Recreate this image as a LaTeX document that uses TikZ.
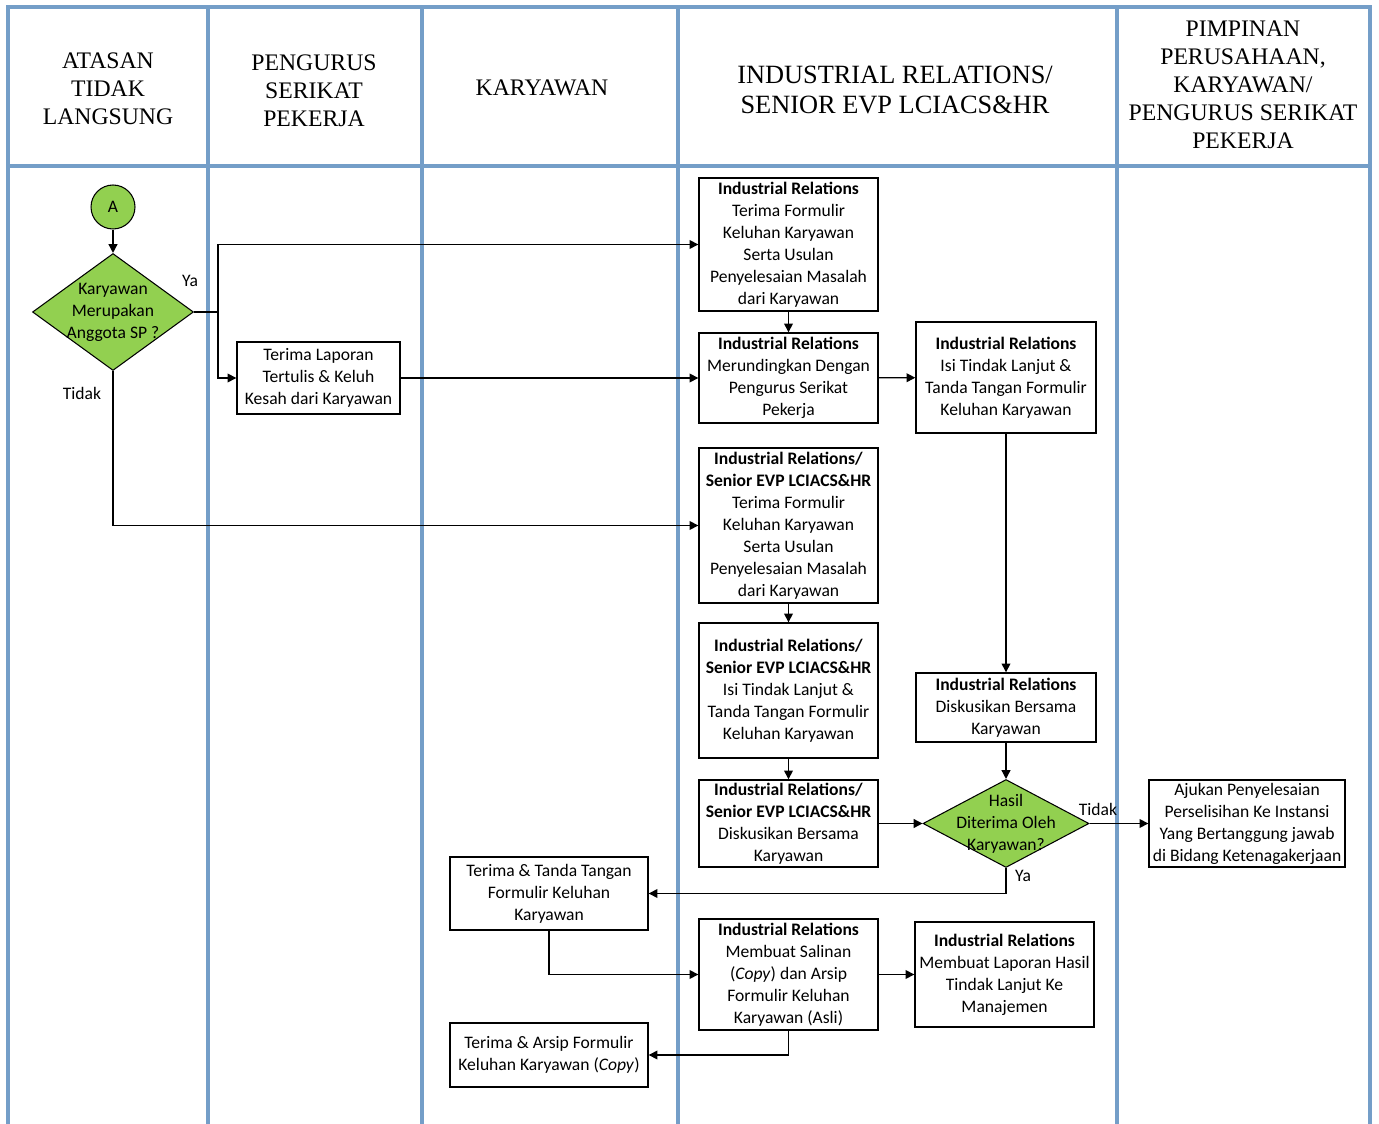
\documentclass[tikz,border=0pt]{standalone}
\usepackage{fontspec}
\setmainfont{Carlito}
\newfontfamily\headfont{Liberation Serif}
\usetikzlibrary{shapes.geometric,arrows.meta}
\definecolor{laneblue}{RGB}{116,158,200}
\definecolor{decgreen}{RGB}{146,208,80}

\begin{document}
\begin{tikzpicture}[x=0.02cm, y=-0.02cm,
    lane/.style={draw=laneblue, line width=2.8pt, line cap=rect},
    head/.style={font=\headfont\fontsize{13.5}{16}\selectfont, align=center},
    box/.style={draw, line width=0.8pt, fill=white, align=center, inner sep=1pt,
        font=\fontsize{10}{12.5}\selectfont},
    decision/.style={diamond, draw, line width=0.6pt, fill=decgreen, inner sep=0pt},
    txt/.style={font=\fontsize{10}{12.5}\selectfont},
    flow/.style={line width=0.8pt, -{Triangle[length=5pt,width=5pt]}},
    link/.style={line width=0.8pt}]

    % Fix the page to the size of the reference
    \useasboundingbox (0,0) rectangle (1379,1124);

    % Swimlane frame
    \foreach \x in {8,208,422,678,1117,1370}
        \draw[lane] (\x,7) -- (\x,1124);
    \draw[lane] (8,7) -- (1370,7);
    \draw[lane] (8,166) -- (1370,166);

    % Lane titles
    \node[head] (h1) at (108,89) {ATASAN\\TIDAK\\LANGSUNG};
    \node[head] (h2) at (314,91) {PENGURUS\\SERIKAT\\PEKERJA};
    \node[head] (h3) at (542,88) {KARYAWAN};
    \node[head, font=\headfont\fontsize{15}{17}\selectfont] (h4) at (895,90)
        {INDUSTRIAL RELATIONS/\\SENIOR EVP LCIACS\&HR};
    \node[head] (h5) at (1243,85) {PIMPINAN\\PERUSAHAAN,\\KARYAWAN/\\PENGURUS SERIKAT\\PEKERJA};

    % Start connector and first decision
    \node[circle, draw, line width=0.6pt, fill=decgreen, minimum size=0.88cm, inner sep=0pt,
        txt] (a) at (113,207) {A};
    \node[decision, minimum width=3.22cm, minimum height=2.34cm,
        label={[txt, align=center]center:Karyawan\\Merupakan\\Anggota SP ?}] (q1) at (113,312) {};

    % Union lane
    \node[box, minimum width=3.26cm, minimum height=1.44cm] (lap) at (318.5,378)
        {Terima Laporan\\Tertulis \& Keluh\\Kesah dari Karyawan};

    % Industrial Relations column
    \node[box, minimum width=3.58cm, minimum height=2.66cm] (ir1) at (788.5,244.5)
        {\textbf{Industrial Relations}\\Terima Formulir\\Keluhan Karyawan\\Serta Usulan\\Penyelesaian Masalah\\dari Karyawan};
    \node[box, minimum width=3.58cm, minimum height=1.8cm] (ir2) at (788.5,378)
        {\textbf{Industrial Relations}\\Merundingkan Dengan\\Pengurus Serikat\\Pekerja};
    \node[box, minimum width=3.58cm, minimum height=3.1cm] (ir3) at (788.5,525.5)
        {\textbf{Industrial Relations/}\\\textbf{Senior EVP LCIACS\&HR}\\Terima Formulir\\Keluhan Karyawan\\Serta Usulan\\Penyelesaian Masalah\\dari Karyawan};
    \node[box, minimum width=3.58cm, minimum height=2.7cm] (ir6) at (788.5,690.5)
        {\textbf{Industrial Relations/}\\\textbf{Senior EVP LCIACS\&HR}\\Isi Tindak Lanjut \&\\Tanda Tangan Formulir\\Keluhan Karyawan};
    \node[box, minimum width=3.58cm, minimum height=1.74cm] (ir7) at (788.5,823.5)
        {\textbf{Industrial Relations/}\\\textbf{Senior EVP LCIACS\&HR}\\Diskusikan Bersama\\Karyawan};
    \node[box, minimum width=3.58cm, minimum height=2.22cm] (ir10) at (788.5,974.5)
        {\textbf{Industrial Relations}\\Membuat Salinan\\(\textit{Copy}) dan Arsip\\Formulir Keluhan\\Karyawan (Asli)};

    \node[box, minimum width=3.6cm, minimum height=2.22cm] (ir4) at (1006,377.5)
        {\textbf{Industrial Relations}\\Isi Tindak Lanjut \&\\Tanda Tangan Formulir\\Keluhan Karyawan};
    \node[box, minimum width=3.6cm, minimum height=1.38cm] (ir5) at (1006,707.5)
        {\textbf{Industrial Relations}\\Diskusikan Bersama\\Karyawan};
    \node[decision, minimum width=3.32cm, minimum height=1.76cm,
        label={[txt, align=center]center:Hasil\\Diterima Oleh\\Karyawan?}] (q2) at (1006,823.5) {};
    \node[box, minimum width=3.58cm, minimum height=2.1cm] (ir11) at (1004.5,974.5)
        {\textbf{Industrial Relations}\\Membuat Laporan Hasil\\Tindak Lanjut Ke\\Manajemen};

    % Management lane
    \node[box, minimum width=3.92cm, minimum height=1.74cm] (ajukan) at (1247,823.5)
        {Ajukan Penyelesaian\\Perselisihan Ke Instansi\\Yang Bertanggung jawab\\di Bidang Ketenagakerjaan};

    % Employee lane
    \node[box, minimum width=3.96cm, minimum height=1.46cm] (ttd) at (549,893.5)
        {Terima \& Tanda Tangan\\Formulir Keluhan\\Karyawan};
    \node[box, minimum width=3.96cm, minimum height=1.28cm] (arsip) at (549,1055)
        {Terima \& Arsip Formulir\\Keluhan Karyawan (\textit{Copy})};

    % Branch labels
    \node[txt] (ya1) at (190,281) {Ya};
    \node[txt] (tidak1) at (82,393) {Tidak};
    \node[txt] (tidak2) at (1098,809) {Tidak};
    \node[txt] (ya2) at (1023,876) {Ya};

    % Connectors
    \coordinate (yaknee) at (218,312);
    \draw[flow] (a) -- (q1);
    \draw[link] (q1.east) -- (yaknee);
    \draw[flow] (yaknee) |- (ir1.west);
    \draw[flow] (yaknee) |- (lap.west);
    \draw[flow] (q1.south) |- (ir3.west);
    \draw[flow] (lap) -- (ir2);
    \draw[flow] (ir1) -- (ir2);
    \draw[flow] (ir2) -- (ir4);
    \draw[flow] (ir4) -- (ir5);
    \draw[flow] (ir3) -- (ir6);
    \draw[flow] (ir6) -- (ir7);
    \draw[flow] (ir5) -- (q2);
    \draw[flow] (ir7) -- (q2);
    \draw[flow] (q2) -- (ajukan);
    \draw[flow] (q2.south) |- (ttd.east);
    \draw[flow] (ttd.south) |- (ir10.west);
    \draw[flow] (ir10) -- (ir11);
    \draw[flow] (ir10.south) |- (arsip.east);

\end{tikzpicture}
\end{document}
